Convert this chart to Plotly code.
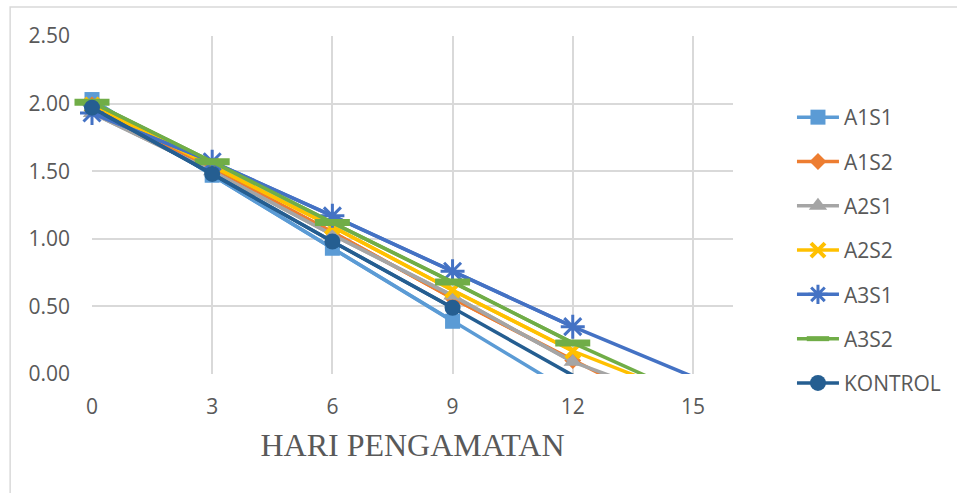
import plotly.graph_objects as go

# Observation days and measured values per treatment
days = [0, 3, 6, 9, 12, 15]

a1s1 = [2.03, 1.47, 0.93, 0.39, -0.14, -0.68]
a1s2 = [1.99, 1.52, 1.05, 0.56, 0.10, -0.35]
a2s1 = [1.93, 1.50, 1.03, 0.58, 0.09, -0.24]
a2s2 = [1.99, 1.54, 1.09, 0.62, 0.17, -0.18]
a3s1 = [1.93, 1.57, 1.17, 0.76, 0.35, -0.02]
a3s2 = [2.01, 1.57, 1.12, 0.68, 0.23, -0.17]
kontrol = [1.97, 1.48, 0.98, 0.49, -0.01, -0.50]

series_names = ["A1S1", "A1S2", "A2S1", "A2S2", "A3S1", "A3S2", "KONTROL"]
series_values = [a1s1, a1s2, a2s1, a2s2, a3s1, a3s2, kontrol]

y_ticks = [0, 0.5, 1.0, 1.5, 2.0, 2.5]
x_ticks = [0, 3, 6, 9, 12, 15]

colors = ["#5B9BD5", "#ED7D31", "#A5A5A5", "#FFC000", "#4472C4", "#70AD47", "#255E91"]
symbols = ["square", "diamond", "triangle-up", "x-thin-open", "asterisk-open",
           "line-ew-open", "circle"]
sizes = [15, 13, 16, 14, 20, 25, 16]
marker_line = [0, 0, 0, 4, 3, 7, 0]

FONT = "Open Sans"
GREY = "#595959"
GRID = "#D9D9D9"
LINE_W = 3.5

fig = go.Figure()
for name, vals, col, sym, sz, lw in zip(series_names, series_values, colors,
                                          symbols, sizes, marker_line):
    # full line, clipped at the axis minimum
    fig.add_trace(go.Scatter(
        x=days, y=vals, mode="lines", showlegend=False, hoverinfo="skip",
        line=dict(color=col, width=LINE_W), legendgroup=name,
    ))
    # markers only for points inside the axis range
    xs = [d for d, v in zip(days, vals) if v >= 0]
    ys = [v for v in vals if v >= 0]
    fig.add_trace(go.Scatter(
        x=xs, y=ys, name=name, mode="lines+markers", cliponaxis=False,
        line=dict(color=col, width=LINE_W),
        marker=dict(symbol=sym, size=sz, color=col, opacity=1,
                    line=dict(color=col, width=lw)),
        legendgroup=name,
    ))

fig.update_layout(
    width=957, height=493,
    margin=dict(l=92, r=223, t=36, b=119),
    paper_bgcolor="white", plot_bgcolor="white",
    font=dict(family=FONT, size=21, color=GREY),
    showlegend=True,
    legend=dict(x=1.0903, y=0.8195, xanchor="left", yanchor="top",
                font=dict(family=FONT, size=21, color=GREY),
                itemwidth=42, tracegroupgap=14, bgcolor="rgba(0,0,0,0)"),
    xaxis=dict(range=[0, 16], tickvals=x_ticks, showgrid=True, gridcolor=GRID,
               gridwidth=1.5, zeroline=False, showline=False,
               ticklabelstandoff=18,
               title=dict(text="HARI PENGAMATAN",
                          font=dict(family="Liberation Serif", size=32, color=GREY),
                          standoff=14)),
    yaxis=dict(range=[0, 2.5], tickvals=y_ticks, tickformat=".2f", showgrid=True,
               gridcolor=GRID, gridwidth=1.5, zeroline=False, showline=False,
               ticklabelstandoff=21),
    shapes=[dict(type="rect", xref="paper", yref="paper",
                 x0=-0.1277, x1=1.4, y0=-0.36, y1=1.0858,
                 line=dict(color=GRID, width=1.5), layer="below")],
)

fig.write_html("out.html")
